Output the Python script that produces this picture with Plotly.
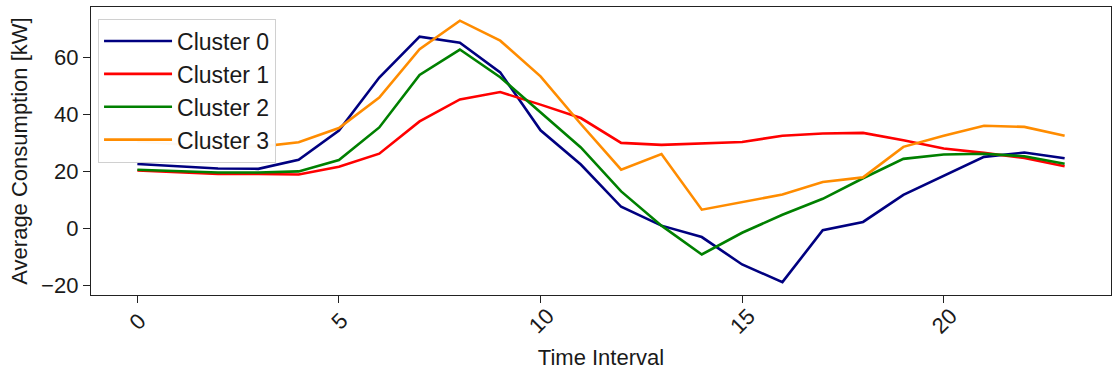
import plotly.graph_objects as go

# Hourly time intervals
time_interval = list(range(24))

# Average consumption per cluster [kW]
cluster_0 = [22.6, 21.8, 21.0, 20.9, 24.1, 34.3, 52.9, 67.2, 65.1, 54.7, 34.4, 22.4,
             7.6, 1.0, -3.0, -12.6, -18.8, -0.6, 2.3, 11.8, 18.5, 25.1, 26.6, 24.6]
cluster_1 = [20.3, 19.7, 19.1, 19.1, 18.9, 21.6, 26.2, 37.5, 45.2, 47.8, 43.4, 38.7,
             30.0, 29.3, 29.7, 30.3, 32.5, 33.3, 33.5, 30.9, 28.0, 26.5, 24.7, 21.8]
cluster_2 = [20.6, 20.0, 19.6, 19.6, 20.0, 24.0, 35.4, 53.8, 62.7, 53.0, 40.7, 28.4,
             13.0, 1.0, -9.1, -1.5, 4.8, 10.4, 17.6, 24.4, 25.9, 26.2, 25.3, 22.7]
cluster_3 = [30.5, 29.5, 28.9, 28.6, 30.2, 35.2, 45.9, 62.8, 72.8, 65.8, 53.3, 36.6,
             20.6, 26.1, 6.6, 9.3, 11.9, 16.3, 17.9, 28.6, 32.5, 36.0, 35.6, 32.5]

series_names = ["Cluster 0", "Cluster 1", "Cluster 2", "Cluster 3"]
series_values = [cluster_0, cluster_1, cluster_2, cluster_3]
series_colors = ["#000080", "#ff0000", "#008000", "#ff8c00"]

x_ticks = [0, 5, 10, 15, 20]
y_ticks = [-20, 0, 20, 40, 60]
y_tick_text = ["\u221220", "0", "20", "40", "60"]

FONT = "Liberation Sans, Arial, sans-serif"
AXIS_SIZE = 22

fig = go.Figure()
for name, vals, col in zip(series_names, series_values, series_colors):
    fig.add_trace(go.Scatter(x=time_interval, y=vals, mode="lines", name=name,
                             line=dict(color=col, width=2.6)))

# Rotated x tick labels, centred under each tick
for t in x_ticks:
    fig.add_annotation(x=t, xref="x", y=0, yref="paper", text=str(t),
                       showarrow=False, textangle=-45, xanchor="center",
                       yanchor="middle", yshift=-26,
                       font=dict(family=FONT, size=AXIS_SIZE, color="#1a1a1a"))

fig.update_layout(
    width=1112, height=372,
    margin=dict(l=91, r=1, t=7, b=77),
    paper_bgcolor="white", plot_bgcolor="white",
    font=dict(family=FONT, size=AXIS_SIZE, color="#1a1a1a"),
    showlegend=True,
    legend=dict(x=0.0069, y=0.96, xanchor="left", yanchor="top",
                bgcolor="rgba(255,255,255,0.95)", bordercolor="#d0d0d0",
                borderwidth=1, font=dict(family=FONT, size=23, color="#1a1a1a"),
                itemwidth=68, tracegroupgap=0),
)
fig.update_xaxes(range=[-1.15, 24.15], tickvals=x_ticks, showticklabels=False,
                 ticks="outside", ticklen=7, tickwidth=1.2, tickcolor="#222",
                 showline=True, linecolor="#222", linewidth=1.3, mirror=True,
                 showgrid=False, zeroline=False,
                 title=dict(text="Time Interval", standoff=47,
                            font=dict(family=FONT, size=AXIS_SIZE)))
fig.update_yaxes(range=[-23.3, 77.6], tickvals=y_ticks, ticktext=y_tick_text,
                 ticks="outside", ticklen=7, tickwidth=1.2, tickcolor="#222",
                 showline=True, linecolor="#222", linewidth=1.3, mirror=True,
                 showgrid=False, zeroline=False,
                 title=dict(text="Average Consumption [kW]", standoff=7,
                            font=dict(family=FONT, size=AXIS_SIZE)))

fig.write_html("out.html")
